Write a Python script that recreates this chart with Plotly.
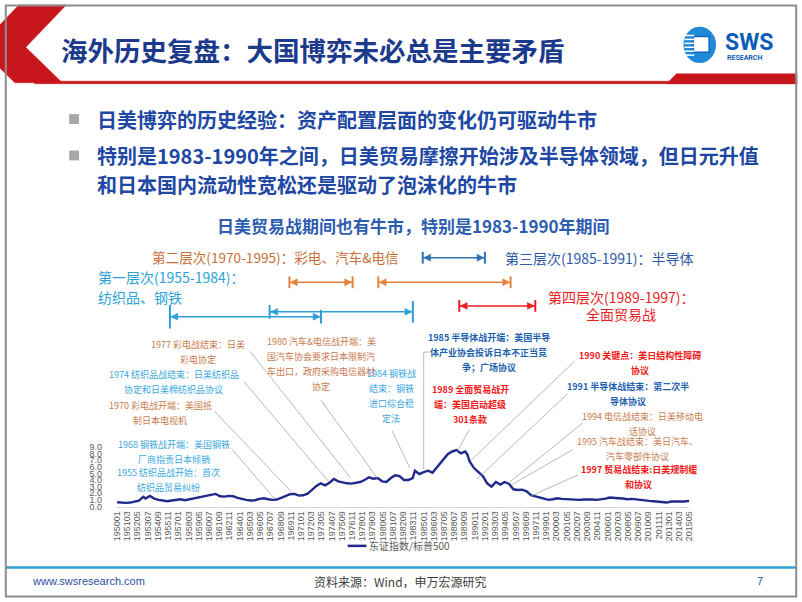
import plotly.graph_objects as go

W, H = 802, 602

# ---------------- data ----------------
dates = ["1950-01","1950-07","1951-01","1951-07","1952-01","1952-07","1953-01","1953-04","1953-10",
         "1954-04","1954-10","1955-04","1955-10","1956-04","1956-10","1957-04","1957-10","1958-04",
         "1958-10","1959-04","1959-10","1960-04","1960-10","1961-04","1961-10","1962-04","1962-10",
         "1963-04","1963-10","1964-04","1964-10","1965-04","1965-10","1966-04","1966-10","1967-04",
         "1967-10","1968-04","1968-10","1969-04","1969-10","1970-04","1970-10","1971-04","1971-10",
         "1972-04","1972-10","1973-04","1973-10","1974-04","1974-10","1975-04","1975-10","1976-04",
         "1976-10","1977-04","1977-10","1978-04","1978-10","1979-04","1979-10","1980-04","1980-10",
         "1981-04","1981-10","1982-04","1982-10","1983-04","1983-10","1984-01","1984-07","1985-01",
         "1985-07","1986-01","1986-07","1987-01","1987-07","1987-10","1988-04","1988-10","1989-04",
         "1989-10","1990-01","1990-04","1990-10","1991-04","1991-10","1992-04","1992-10","1993-04",
         "1993-10","1994-04","1994-10","1995-04","1995-10","1996-04","1996-10","1997-04","1997-10",
         "1998-04","1998-10","1999-04","1999-10","2000-04","2000-10","2001-04","2001-10","2002-04",
         "2002-10","2003-04","2003-10","2004-04","2004-10","2005-04","2005-10","2006-04","2006-10",
         "2007-04","2007-10","2008-04","2008-10","2009-04","2009-10","2010-04","2010-10","2011-04",
         "2011-10","2012-04","2012-10","2013-04","2013-10","2014-04","2014-10","2015-05"]
ratio = [0.65,0.55,0.55,0.6,0.7,0.9,1.45,1.2,1.6,
         1.2,1.0,0.85,0.8,0.9,1.0,1.1,0.95,1.1,
         1.2,1.3,1.45,1.6,1.85,1.9,1.55,1.5,1.6,
         1.55,1.3,1.1,1.0,0.9,0.95,1.15,1.25,1.1,
         1.0,1.05,1.3,1.55,1.85,1.9,1.65,1.7,1.95,
         2.5,3.1,3.5,3.2,3.6,4.15,3.8,3.6,3.5,
         3.45,3.6,3.7,4.0,4.4,4.2,4.3,3.8,3.7,
         4.3,4.7,4.6,4.0,4.0,4.3,5.4,4.9,5.2,
         5.4,5.1,5.9,6.6,7.4,7.9,8.3,8.5,8.0,
         8.3,7.8,6.8,5.8,5.2,4.6,3.5,3.0,3.7,
         3.3,3.7,3.4,2.6,2.5,2.55,2.3,1.7,1.5,
         1.3,1.1,1.0,1.1,1.25,1.15,1.1,1.0,1.05,
         1.0,1.05,1.1,1.05,1.0,1.05,1.2,1.35,1.25,
         1.25,1.2,1.1,1.15,1.05,1.0,0.95,0.85,0.8,
         0.7,0.65,0.6,0.75,0.8,0.75,0.75,0.85]

tick_labels = ["195001","195103","195205","195307","195409","195511","195701","195803","195905",
               "196007","196109","196211","196401","196503","196605","196707","196809","196911",
               "197101","197203","197305","197407","197509","197611","197801","197903","198005",
               "198107","198209","198311","198501","198603","198705","198807","198909","199011",
               "199201","199303","199405","199507","199609","199711","199901","200003","200105",
               "200207","200309","200411","200601","200703","200805","200907","201009","201111",
               "201301","201403","201505"]
tick_dates = [f"{t[:4]}-{t[4:]}-01" for t in tick_labels]

series_name = "东证指数/标普500"
slide_title = "海外历史复盘：大国博弈未必总是主要矛盾"
bullets = ["日美博弈的历史经验：资产配置层面的变化仍可驱动牛市",
           "特别是1983-1990年之间，日美贸易摩擦开始涉及半导体领域，但日元升值",
           "和日本国内流动性宽松还是驱动了泡沫化的牛市"]
chart_title = "日美贸易战期间也有牛市，特别是1983-1990年期间"

# ---------------- helpers ----------------
def px(x):
    return x / W

def py(y):
    return 1 - y / H

CJK = "Noto Sans CJK SC"
annotations = []
shapes = []

def text(t, x, y, size, color, bold=False, xanchor="center", family=CJK):
    annotations.append(dict(
        text=f"<b>{t}</b>" if bold else t, x=px(x), y=py(y), xref="paper", yref="paper",
        xanchor=xanchor, yanchor="middle", showarrow=False,
        font=dict(size=size, color=color, family=family)))

def line(x0, y0, x1, y1, color, width=1):
    shapes.append(dict(type="line", xref="paper", yref="paper",
                       x0=px(x0), y0=py(y0), x1=px(x1), y1=py(y1),
                       line=dict(color=color, width=width)))

def poly(points, fill, linecolor=None):
    d = "M " + " L ".join(f"{px(a):.5f} {py(b):.5f}" for a, b in points) + " Z"
    shapes.append(dict(type="path", xref="paper", yref="paper", path=d,
                       fillcolor=fill, line=dict(color=linecolor or fill, width=0.5)))

def bracket(x0, x1, y, color, h0=8, h1=8):
    line(x0, y, x1, y, color, 1.5)
    line(x0, y - h0, x0, y + h0, color, 2)
    line(x1, y - h1, x1, y + h1, color, 2)
    poly([(x0 + 1, y), (x0 + 8, y - 3.5), (x0 + 8, y + 3.5)], color)
    poly([(x1 - 1, y), (x1 - 8, y - 3.5), (x1 - 8, y + 3.5)], color)

# ---------------- slide frame ----------------
poly([(14, 0), (62, 0), (21, 43), (58, 79), (10, 79), (-27, 43)], "#C8161D")
poly([(30, 77.5), (802, 77.5), (802, 80), (30, 80)], "#C8161D")
poly([(670, 80), (680, 70), (802, 70), (802, 80)], "#C8161D")
text(f"<b>{slide_title}</b>", 55, 45, 26.5, "#1B3A8C", xanchor="left")

# logo
shapes.append(dict(type="circle", xref="paper", yref="paper", x0=px(687), x1=px(720),
                   y0=py(59), y1=py(22), fillcolor="#1E8AD8", line=dict(width=0)))
shapes.append(dict(type="rect", xref="paper", yref="paper", x0=px(697), x1=px(713),
                   y0=py(48), y1=py(32), fillcolor="white", line=dict(color="#1565C0", width=1.5)))
for yy in (31, 35, 39, 43, 47, 51):
    line(688, yy, 698, yy, "white", 1.5)
text("<b>SWS</b>", 727, 38, 23, "#0D5DB8", xanchor="left", family="Roboto")
text("<b>RESEARCH</b>", 729, 53.5, 7, "#0D5DB8", xanchor="left", family="Roboto")

# bullets
for yy in (116, 153):
    shapes.append(dict(type="rect", xref="paper", yref="paper", x0=px(65), x1=px(75),
                       y0=py(yy + 5), y1=py(yy - 5), fillcolor="#A6A6A6", line=dict(width=0)))
for t, yy in zip(bullets, (116, 153, 183)):
    text(t, 91, yy, 20, "#2047A3", bold=True, xanchor="left")

# chart title
text(chart_title, 414, 224, 17, "#2C5CB0", bold=True)

# level brackets & labels
CY, OR, BL, RD = "#2E9FD8", "#E5823A", "#2E74B5", "#E81E25"
text("第一层次(1955-1984)：", 92, 277, 14, CY, xanchor="left")
text("纺织品、钢铁", 92, 297, 14, CY, xanchor="left")
text("第二层次(1970-1995)：彩电、汽车&电信", 147, 256, 13.6, "#C8703A", xanchor="left")
text("第三层次(1985-1991)：半导体", 504, 257, 14, "#2B5BA6", xanchor="left")
text("第四层次(1989-1997)：", 624, 297, 14, RD)
text("全面贸易战", 624, 314, 14, RD)
bracket(167, 320, 317, CY, 12, 7)
bracket(268, 413, 312, CY, 7, 11)
bracket(288, 352, 282, OR, 6, 6)
bracket(378, 512, 282, OR, 6, 6)
bracket(423, 486, 257, BL, 6, 6)
bracket(460, 537, 306, RD, 6, 6)

# event annotations
O2, C2, B2, R2 = "#C87A4E", "#3AA7DE", "#1F5FAF", "#F01818"
events = [
    (["1977 彩电战结束：日美", "彩电协定"], 195, 345, O2, False),
    (["1974 纺织品战结束：日美纺织品", "协定和日美棉纺织品协议"], 171, 376, C2, False),
    (["1970 彩电战开端：美国抵", "制日本电视机"], 157, 407, O2, False),
    (["1968 钢铁战开端：美国钢铁", "厂商指责日本倾销"], 171, 447, C2, False),
    (["1955 纺织品战开始：首次", "纺织品贸易纠纷"], 166, 475, C2, False),
    (["1980 汽车&电信战开端：美", "国汽车协会要求日本限制汽", "车出口，政府采购电信器材", "协定"], 320, 342, O2, False),
    (["1984 钢铁战", "结束：钢铁", "进口综合稳", "定法"], 391, 375, C2, False),
    (["1985 半导体战开端：美国半导", "体产业协会投诉日本不正当竞", "争；广场协议"], 490, 338, B2, True),
    (["1989 全面贸易战开", "端：美国启动超级", "301条款"], 471, 391, R2, True),
    (["1990 关键点：美日结构性障碍", "协议"], 643, 356, R2, True),
    (["1991 半导体战结束：第二次半", "导体协议"], 631, 388, B2, True),
    (["1994 电信战结束：日美移动电", "话协议"], 646, 418, O2, False),
    (["1995 汽车战结束：美日汽车、", "汽车零部件协议"], 640, 444, O2, False),
    (["1997 贸易战结束:日美规制缓", "和协议"], 642, 472, R2, True),
]
for lines_, x, y0, col, bold in events:
    step = 15.3
    for i, t in enumerate(lines_):
        text(t, x, y0 + i * step, 9, col, bold=bold)

callouts = [((248, 352), (350, 481)), ((242, 383), (328, 485)), ((212, 413), (290, 495)),
            ((230, 452), (273, 502)), ((320, 402), (377, 481)), ((392, 433), (410, 471)),
            ((424, 353), (424, 472)), ((470, 432), (458, 454)), ((577, 362), (472, 463)),
            ((570, 395), (478, 482)), ((585, 425), (510, 486)), ((575, 452), (513, 488)),
            ((580, 478), (533, 499))]
for (a, b) in callouts:
    line(a[0], a[1], b[0], b[1], "#A6A6A6", 0.8)
line(424, 353, 430, 353, "#A6A6A6", 0.8)

# legend (manual)
line(347, 550, 366, 550, "#1F2A8A", 2.5)
text(series_name, 367, 550, 10, "#595959", xanchor="left")

# footer
line(0, 572, 802, 572, "#2F9FD0", 2.5)
text("www.swsresearch.com", 25, 586, 11, "#2A4FA0", xanchor="left", family="Liberation Sans")
text("资料来源：Wind，申万宏源研究", 400, 586, 12, "#404040")
text("7", 765, 586, 11, "#2A4FA0", family="Liberation Sans")

# outer frame
shapes.append(dict(type="rect", xref="paper", yref="paper", x0=0.001, x1=0.999, y0=0.001, y1=0.999,
                   line=dict(color="#8C8C8C", width=2), fillcolor="rgba(0,0,0,0)", layer="above"))

# ---------------- figure ----------------
fig = go.Figure()
fig.add_trace(go.Scatter(x=dates, y=ratio, mode="lines", name=series_name,
                         line=dict(color="#1F2A8A", width=2.4), showlegend=False))

fig.update_layout(
    width=W, height=H, margin=dict(l=0, r=0, t=0, b=0),
    paper_bgcolor="white", plot_bgcolor="white",
    font=dict(family=CJK),
    annotations=annotations, shapes=shapes,
    xaxis=dict(domain=[px(113.5), px(693)], range=["1950-01-01", "2015-05-01"],
               tickmode="array", tickvals=tick_dates, ticktext=tick_labels, tickangle=-90,
               tickfont=dict(size=9, color="#595959", family="Liberation Sans"),
               showgrid=False, zeroline=False, showline=True, linecolor="#D9D9D9", linewidth=1,
               ticks=""),
    yaxis=dict(domain=[py(510), py(449.3)], range=[0, 9], dtick=1, tickformat=".1f",
               tickfont=dict(size=9, color="#595959", family="Liberation Sans"),
               showgrid=False, zeroline=False, showline=False, ticks="",
               ticklabelstandoff=14),
)

fig.write_html("out.html")
